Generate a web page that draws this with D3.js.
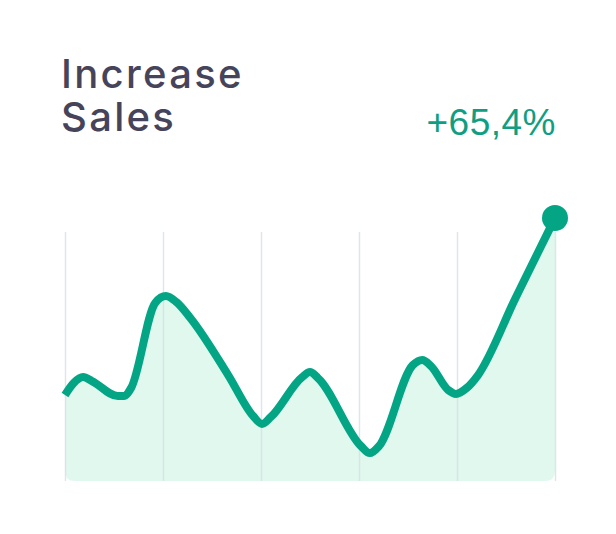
<!DOCTYPE html>
<html><head><meta charset="utf-8">
<script src="https://cdn.jsdelivr.net/npm/d3@7"></script>
<style>html,body{margin:0;padding:0;background:#fff;}svg{display:block;}</style>
</head><body>
<svg id="c" width="616" height="534"></svg>
<script>
const titleLines = ["Increase", "Sales"];
const changeLabel = "+65,4%";
const xTicks = [0, 20, 40, 60, 80, 100];
const xs = [0, 1.8, 3.7, 5.5, 10.8, 12.0, 13.5, 18.4, 20.6, 22.7, 25.5, 33.3, 38.4, 40.2, 42.0, 48.4, 50.0, 51.6, 60.4, 62.2, 64.1, 71.0, 72.9, 74.7, 78.2, 79.8, 82.0, 84.3, 92.0, 100];
const ys = [32.7, 37.3, 39.5, 38.0, 32.3, 32.3, 35.4, 67.7, 70.3, 68.1, 62.2, 40.3, 24.7, 21.7, 24.3, 39.5, 41.4, 39.2, 13.3, 10.6, 13.3, 44.1, 46.0, 43.7, 34.6, 33.1, 35.4, 40.3, 69.8, 100];
const data = xs.map((x, i) => ({x, y: ys[i]}));

const svg = d3.select("#c");
const left = 65, right = 555, bottom = 481, gridTop = 232;
const x = d3.scaleLinear().domain([0, 100]).range([left, right]);
const y = d3.scaleLinear().domain([0, 100]).range([bottom, 218]);

const green = "#03a585";

const defs = svg.append("defs");
defs.append("clipPath").attr("id", "clip").append("path")
  .attr("d", `M${left},0 H${right} V${bottom-10} Q${right},${bottom} ${right-10},${bottom} H${left+10} Q${left},${bottom} ${left},${bottom-10} Z`);

const area = d3.area().x(d => x(d.x)).y0(bottom).y1(d => y(d.y)).curve(d3.curveMonotoneX);
svg.append("path").datum(data).attr("d", area).attr("fill", "#e1f8ef").attr("clip-path", "url(#clip)");

const axis = d3.axisBottom(x).tickValues(xTicks).tickSize(-(bottom - gridTop)).tickFormat("");
const g = svg.append("g").attr("transform", `translate(0,${bottom})`).call(axis);
g.select(".domain").remove();
g.selectAll(".tick line").attr("stroke", "#d9dbe3").attr("stroke-opacity", 0.75).attr("stroke-width", 1.5);

const line = d3.line().x(d => x(d.x)).y(d => y(d.y)).curve(d3.curveMonotoneX);
svg.append("path").datum(data).attr("d", line).attr("fill", "none")
  .attr("stroke", green).attr("stroke-width", 8).attr("stroke-linejoin", "round").attr("stroke-linecap", "butt");

const last = data[data.length - 1];
svg.append("circle").attr("cx", x(last.x)).attr("cy", y(last.y)).attr("r", 13).attr("fill", green);

const tt = svg.append("text").attr("fill", "#46445a")
  .attr("font-family", "Inter, 'Open Sans', sans-serif").attr("font-weight", 500).attr("font-size", 40)
  .attr("letter-spacing", 2.3);
titleLines.forEach((t, i) => {
  tt.append("tspan").attr("x", 61).attr("y", 88 + i * 43).text(t);
});

svg.append("text").attr("x", 556).attr("y", 135).attr("text-anchor", "end")
  .attr("fill", "#109e83").attr("font-family", "'Liberation Sans', Arial, sans-serif")
  .attr("font-size", 37).attr("letter-spacing", 0.5).text(changeLabel);
</script>
</body></html>
